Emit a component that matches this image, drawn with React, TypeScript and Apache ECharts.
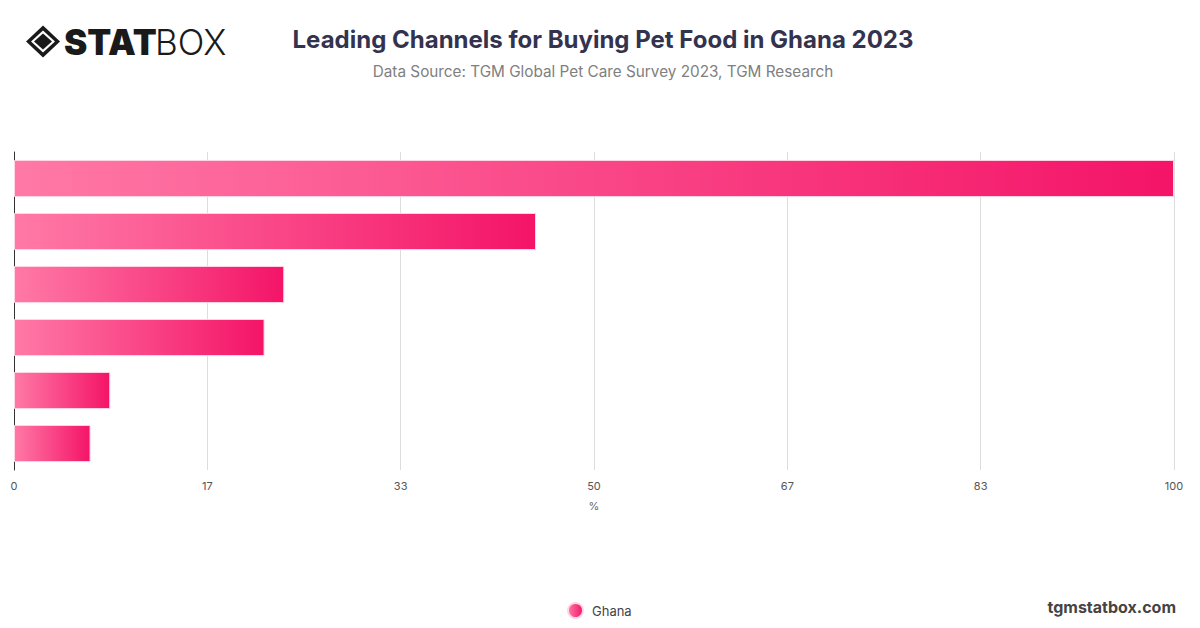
import React, { useEffect, useRef } from "react";
import * as echarts from "echarts";

const categories = ["Channel 1", "Channel 2", "Channel 3", "Channel 4", "Channel 5", "Channel 6"];
const ghanaValues = [100, 45, 23.3, 21.6, 8.3, 6.6];
const xTickStep = 100 / 6;

export default function App() {
  const ref = useRef<HTMLDivElement>(null);
  useEffect(() => {
    if (!ref.current) return;
    const chart = echarts.init(ref.current, null, { renderer: "svg" });
    const grad = new echarts.graphic.LinearGradient(0, 0, 1, 0, [
      { offset: 0, color: "#ff79a6" },
      { offset: 1, color: "#f41468" },
    ]);
    chart.setOption({
      animation: false,
      backgroundColor: "#ffffff",
      title: {
        text: "Leading Channels for Buying Pet Food in Ghana 2023",
        subtext: "Data Source: TGM Global Pet Care Survey 2023, TGM Research",
        left: 598,
        textAlign: "center",
        top: 22,
        itemGap: 13,
        textStyle: { fontFamily: "Inter", fontSize: 24, fontWeight: "bold", color: "#33334f" },
        subtextStyle: { fontFamily: "Inter", fontSize: 15.3, color: "#808080" },
      },
      legend: {
        bottom: 4,
        left: 562,
        icon: "circle",
        itemWidth: 15,
        itemHeight: 15,
        itemGap: 10,
        textStyle: { fontFamily: "Inter", fontSize: 13, color: "#444", padding: [0, 0, 0, 4] },
        data: ["Ghana"],
      },
      grid: { left: 14, right: 26, top: 152, bottom: 158, containLabel: false },
      xAxis: {
        type: "value",
        min: 0,
        max: 100,
        interval: xTickStep,
        name: "%",
        nameLocation: "middle",
        nameGap: 30,
        nameTextStyle: { fontFamily: "Inter", fontSize: 11, color: "#666" },
        axisLine: { show: false },
        axisTick: { show: false },
        axisLabel: {
          fontFamily: "Inter",
          fontSize: 11,
          color: "#555",
          margin: 10,
          formatter: (v: number) => String(Math.round(v)),
        },
        splitLine: { show: true, lineStyle: { color: "#dddddd", width: 1 } },
      },
      yAxis: {
        type: "category",
        inverse: true,
        data: categories,
        axisLine: { show: true, lineStyle: { color: "#333", width: 1 } },
        axisTick: { show: false },
        axisLabel: { show: false },
      },
      graphic: [
        {
          type: "group",
          left: 26,
          top: 24,
          children: [
            { type: "polygon", shape: { points: [[17, 0], [34, 16], [17, 32], [0, 16]] }, style: { fill: "#1a1a1a" } },
            { type: "polygon", shape: { points: [[17, 5], [29, 16], [17, 27], [5, 16]] }, style: { fill: "#ffffff" } },
            { type: "polygon", shape: { points: [[17, 8], [26, 16], [17, 24], [8, 16]] }, style: { fill: "#1a1a1a" } },
            {
              type: "text",
              x: 38,
              y: 16,
              style: { text: "STAT", font: "900 35px Inter", fill: "#1a1a1a", textVerticalAlign: "middle", textBaseline: "middle" },
            },
            {
              type: "text",
              x: 129,
              y: 16,
              style: { text: "BOX", font: "300 35px Inter", fill: "#1a1a1a", textVerticalAlign: "middle", textBaseline: "middle" },
            },
          ],
        },
        {
          type: "text",
          right: 24,
          bottom: 13,
          style: { text: "tgmstatbox.com", font: "bold 16px Inter", fill: "#444" },
        },
      ],
      series: [
        {
          name: "Ghana",
          type: "bar",
          data: ghanaValues,
          barCategoryGap: "30%",
          itemStyle: { color: grad, borderColor: "#ffd6e4", borderWidth: 1 },
        },
      ],
    });
    return () => chart.dispose();
  }, []);
  return <div ref={ref} style={{ position: "absolute", left: 0, top: 0, width: 1200, height: 628 }} />;
}
